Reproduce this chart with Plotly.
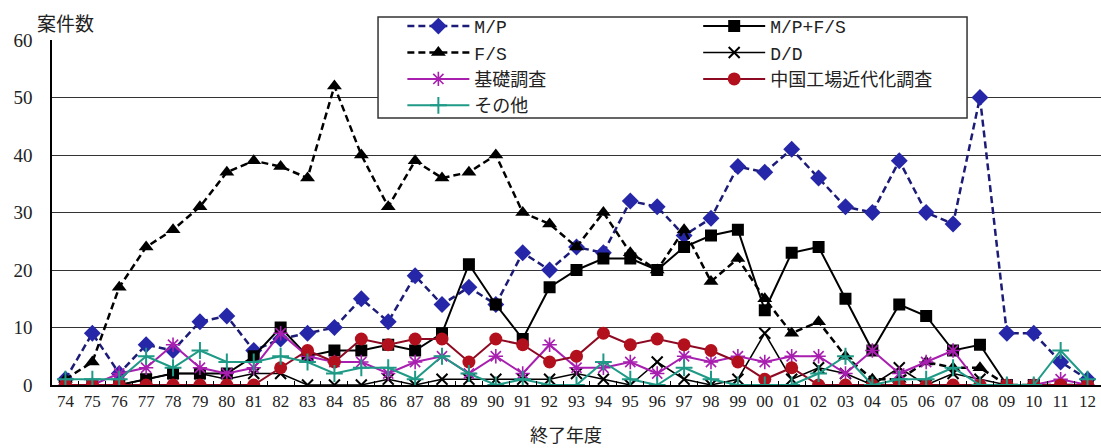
import plotly.graph_objects as go

years = ["74", "75", "76", "77", "78", "79", "80", "81", "82", "83",
         "84", "85", "86", "87", "88", "89", "90", "91", "92", "93",
         "94", "95", "96", "97", "98", "99", "00", "01", "02", "03",
         "04", "05", "06", "07", "08", "09", "10", "11", "12"]

mp = [1, 9, 2, 7, 6, 11, 12, 6, 8, 9,
      10, 15, 11, 19, 14, 17, 14, 23, 20, 24,
      23, 32, 31, 26, 29, 38, 37, 41, 36, 31,
      30, 39, 30, 28, 50, 9, 9, 4, 1]
mp_fs = [0, 0, 0, 1, 2, 2, 2, 5, 10, 5,
         6, 6, 7, 6, 9, 21, 14, 8, 17, 20,
         22, 22, 20, 24, 26, 27, 13, 23, 24, 15,
         6, 14, 12, 6, 7, 0, 0, 0, 0]
fs = [1, 4, 17, 24, 27, 31, 37, 39, 38, 36,
      52, 40, 31, 39, 36, 37, 40, 30, 28, 24,
      30, 23, 20, 27, 18, 22, 15, 9, 11, 5,
      1, 1, 4, 3, 3, 0, 0, 0, 0]
dd = [0, 0, 0, 1, 2, 2, 1, 2, 2, 0,
      0, 0, 1, 0, 1, 1, 1, 1, 1, 2,
      1, 0, 4, 1, 0, 1, 9, 1, 3, 2,
      0, 3, 0, 2, 1, 0, 0, 0, 0]
kiso = [0, 0, 2, 3, 7, 3, 2, 3, 9, 5,
        4, 4, 2, 4, 5, 2, 5, 2, 7, 3,
        3, 4, 2, 5, 4, 5, 4, 5, 5, 2,
        6, 2, 4, 6, 0, 0, 0, 1, 0]
china = [0, 0, 0, 0, 0, 0, 0, 0, 3, 6,
         4, 8, 7, 8, 8, 4, 8, 7, 4, 5,
         9, 7, 8, 7, 6, 4, 1, 3, 0, 0,
         0, 0, 0, 0, 0, 0, 0, 0, 0]
other = [1, 1, 1, 5, 3, 6, 4, 4, 5, 4,
         2, 3, 3, 1, 5, 2, 0, 1, 0, 0,
         4, 1, 0, 3, 1, 0, 0, 0, 2, 5,
         0, 1, 1, 3, 0, 0, 0, 6, 1]

DASH = "7px,4px"

# (name, values, legend column, line style, marker style)
series = [
    ("M/P", mp, "legend",
     dict(color="#1c1c78", width=2.5, dash=DASH),
     dict(symbol="diamond", size=13, color="#2626a8")),
    ("M/P+F/S", mp_fs, "legend2",
     dict(color="#000000", width=2),
     dict(symbol="square", size=12, color="#000000")),
    ("F/S", fs, "legend",
     dict(color="#000000", width=2.5, dash=DASH),
     dict(symbol="triangle-up", size=13, color="#000000")),
    ("D/D", dd, "legend2",
     dict(color="#000000", width=1.5),
     dict(symbol="x-thin-open", size=11, color="#000000", line=dict(width=2, color="#000000"))),
    ("基礎調査", kiso, "legend",
     dict(color="#a81fb0", width=2),
     dict(symbol="asterisk-open", size=12, color="#a81fb0", line=dict(width=1.6, color="#a81fb0"))),
    ("中国工場近代化調査", china, "legend2",
     dict(color="#8e0a22", width=2),
     dict(symbol="circle", size=13, color="#b3101e")),
    ("その他", other, "legend",
     dict(color="#1e9a86", width=2),
     dict(symbol="cross-thin-open", size=12, color="#1e9a86", line=dict(width=2, color="#1e9a86"))),
]

fig = go.Figure()
for name, vals, leg, line, marker in series:
    fig.add_trace(go.Scatter(x=years, y=vals, name=name, mode="lines+markers",
                             line=line, marker=marker, legend=leg))

legend_font = dict(family="Liberation Mono, Noto Sans CJK JP", size=18, color="#222")
legend_common = dict(orientation="v", yanchor="top", y=1.093, xanchor="left",
                     bgcolor="rgba(0,0,0,0)", borderwidth=0, itemwidth=62,
                     font=legend_font, traceorder="normal", tracegroupgap=0)

fig.update_layout(
    width=1101, height=448,
    margin=dict(l=52, r=0, t=40, b=63),
    paper_bgcolor="white", plot_bgcolor="white",
    font=dict(family="Liberation Serif, Noto Sans CJK JP", size=17, color="#222"),
    showlegend=True,
    legend=dict(x=0.334, **legend_common),
    legend2=dict(x=0.616, **legend_common),
    xaxis=dict(
        type="category", range=[-0.5, 38.5],
        showline=True, linecolor="#000", linewidth=1.5,
        ticks="inside", ticklen=4, tickcolor="#000", tickson="boundaries",
        showgrid=False, tickangle=0,
        tickfont=dict(family="Liberation Serif", size=17, color="#222"),
    ),
    yaxis=dict(
        range=[0, 60], dtick=10,
        showline=True, linecolor="#000", linewidth=1.5,
        showgrid=True, gridcolor="#333", gridwidth=1.3,
        zeroline=False, ticks="", ticklabelstandoff=14,
        tickfont=dict(family="Liberation Serif", size=19, color="#222"),
    ),
)

# Frame behind the two legend columns
fig.add_shape(type="rect", xref="paper", yref="paper",
              x0=0.3108, x1=0.8723, y0=0.7739, y1=1.0667,
              line=dict(color="#333", width=1.5), fillcolor="white", layer="above")

fig.add_annotation(text="案件数", xref="paper", yref="paper", x=-0.016, y=1.052,
                   xanchor="left", yanchor="middle", showarrow=False,
                   font=dict(family="Noto Sans CJK JP", size=19, color="#222"))
fig.add_annotation(text="終了年度", xref="paper", yref="paper", x=0.49, y=-0.142,
                   xanchor="center", yanchor="middle", showarrow=False,
                   font=dict(family="Noto Sans CJK JP", size=18, color="#222"))

fig.write_html("out.html")
